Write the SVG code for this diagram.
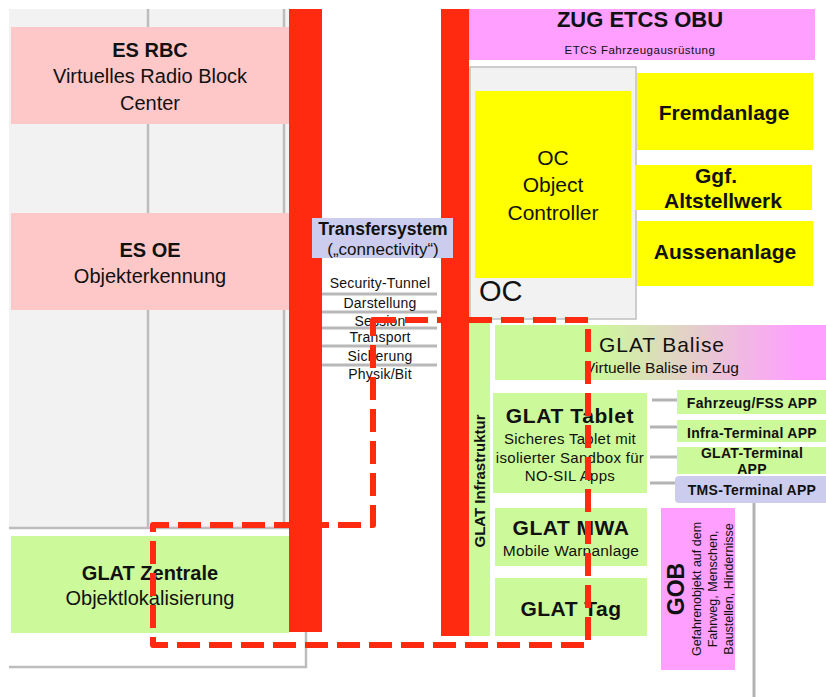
<svg xmlns="http://www.w3.org/2000/svg" width="826" height="697" viewBox="0 0 826 697">
  <defs>
    <linearGradient id="baliseGrad" x1="0" y1="0" x2="1" y2="0">
      <stop offset="0" stop-color="#ccf99a"/>
      <stop offset="0.3" stop-color="#ccf99a"/>
      <stop offset="0.92" stop-color="#ff9fff"/>
      <stop offset="1" stop-color="#ff9fff"/>
    </linearGradient>
  </defs>
  <style>
    text { font-family: "Liberation Sans", Arial, sans-serif; fill: #111; text-anchor: middle; }
    .b { font-weight: bold; }
    .pink { fill: #ffc8c8; }
    .green { fill: #ccf99a; }
    .yellow { fill: #ffff00; }
    .magenta { fill: #ff9fff; }
    .lav { fill: #ccccee; }
    .bar { fill: #ff2a10; }
    .grid { stroke: #bdbdbd; stroke-width: 2.5; fill: none; }
    .link { stroke: #b3b3b3; stroke-width: 3; fill: none; }
    .layer { stroke: #b8b8b8; stroke-width: 3; fill: none; }
    .lyr { font-size: 14px; letter-spacing: 0.2px; }
    .app { font-weight: bold; font-size: 14px; letter-spacing: 0.3px; }
    .zone { stroke: #ff2a10; stroke-width: 6; fill: none; stroke-dasharray: 23 9; stroke-linejoin: round; }
  </style>

  <rect width="826" height="697" fill="#ffffff"/>

  <!-- left gray area with column guides -->
  <g id="left-panel">
    <rect x="9" y="9" width="281" height="519" fill="#f2f2f2"/>
    <path class="grid" d="M148 9 V528"/>
    <path class="grid" d="M284 9 V528" stroke-width="2"/>
    <path class="grid" d="M9 528 H290" stroke="#c8c8c8"/>
    <path class="grid" d="M9 667 H306 V630" stroke="#c4c4c4"/>
  </g>

  <g id="es-rbc">
    <rect class="pink" x="11" y="27" width="278" height="97"/>
    <text class="b" x="150" y="57" font-size="20">ES RBC</text>
    <text x="150" y="83" font-size="20">Virtuelles Radio Block</text>
    <text x="150" y="110" font-size="20">Center</text>
  </g>

  <g id="es-oe">
    <rect class="pink" x="11" y="213" width="278" height="97"/>
    <text class="b" x="150" y="257" font-size="20">ES OE</text>
    <text x="150" y="283" font-size="20">Objekterkennung</text>
  </g>

  <g id="glat-zentrale">
    <rect class="green" x="11" y="536" width="278" height="97"/>
    <text class="b" x="150" y="580" font-size="20">GLAT Zentrale</text>
    <text x="150" y="605" font-size="20">Objektlokalisierung</text>
  </g>

  <!-- transfer buses -->
  <g id="bus-left">
    <rect class="bar" x="289" y="9" width="33" height="623"/>
  </g>
  <g id="bus-right">
    <rect class="bar" x="441" y="9" width="28" height="627"/>
  </g>

  <g id="transfersystem">
    <rect class="lav" x="312" y="218" width="141" height="40"/>
    <text class="b" x="383" y="235" font-size="17.5">Transfersystem</text>
    <text x="383" y="255" font-size="17">(„connectivity“)</text>
    <rect x="323" y="265" width="118" height="120" fill="#ffffff"/>
    <path class="layer" d="M322 294 H437 M322 312 H437 M322 328 H437 M322 346 H437 M322 365 H437"/>
    <text class="lyr" x="380" y="288">Security-Tunnel</text>
    <text class="lyr" x="380" y="308">Darstellung</text>
    <text class="lyr" x="380" y="326">Session</text>
    <text class="lyr" x="380" y="342">Transport</text>
    <text class="lyr" x="380" y="361">Sicherung</text>
    <text class="lyr" x="380" y="379">Physik/Bit</text>
  </g>

  <g id="zug-etcs-obu">
    <rect class="magenta" x="469" y="9" width="346" height="51"/>
    <text class="b" x="640" y="27" font-size="22">ZUG ETCS OBU</text>
    <text x="640" y="54" font-size="11.5" letter-spacing="0.5">ETCS Fahrzeugausrüstung</text>
  </g>

  <g id="oc">
    <rect x="470" y="67" width="166" height="252" fill="#f2f2f2" stroke="#bfbfbf" stroke-width="1.5"/>
    <rect class="yellow" x="475" y="91" width="156" height="187"/>
    <text x="553" y="165" font-size="21">OC</text>
    <text x="553" y="192" font-size="21">Object</text>
    <text x="553" y="220" font-size="21">Controller</text>
    <text x="479" y="301" font-size="29" style="text-anchor:start">OC</text>
  </g>

  <g id="fremdanlage">
    <rect class="yellow" x="637" y="73" width="176" height="77"/>
    <text class="b" x="724" y="120" font-size="21">Fremdanlage</text>
  </g>

  <g id="altstellwerk">
    <rect class="yellow" x="635" y="165" width="177" height="45"/>
    <text class="b" x="716" y="183" font-size="21">Ggf.</text>
    <text class="b" x="723" y="208" font-size="21">Altstellwerk</text>
  </g>

  <g id="aussenanlage">
    <rect class="yellow" x="637" y="221" width="176" height="65"/>
    <text class="b" x="725" y="259" font-size="21">Aussenanlage</text>
  </g>

  <g id="glat-infrastruktur">
    <rect class="green" x="469" y="322" width="21" height="314"/>
    <text class="b" transform="translate(485 481) rotate(-90)" font-size="15">GLAT Infrastruktur</text>
  </g>

  <g id="glat-balise">
    <rect x="495" y="325" width="331" height="55" fill="url(#baliseGrad)"/>
    <text x="662" y="352" font-size="21" letter-spacing="0.9">GLAT Balise</text>
    <text x="662" y="373" font-size="15.5">Virtuelle Balise im Zug</text>
  </g>

  <g id="glat-tablet">
    <rect class="green" x="493" y="393" width="154" height="100"/>
    <text class="b" x="570" y="423" font-size="21" letter-spacing="0.6">GLAT Tablet</text>
    <text x="570" y="444" font-size="15" letter-spacing="0.3">Sicheres Tablet mit</text>
    <text x="570" y="463" font-size="15" letter-spacing="0.3">isolierter Sandbox für</text>
    <text x="570" y="481" font-size="15" letter-spacing="0.3">NO-SIL Apps</text>
  </g>

  <g id="app-fahrzeug">
    <rect class="green" x="677" y="390" width="149" height="24"/>
    <text class="app" x="752" y="408">Fahrzeug/FSS APP</text>
  </g>
  <g id="app-infra">
    <rect class="green" x="677" y="420" width="149" height="22"/>
    <text class="app" x="752" y="438">Infra-Terminal APP</text>
  </g>
  <g id="app-glat">
    <rect class="green" x="677" y="447" width="149" height="27"/>
    <text class="app" x="752" y="458">GLAT-Terminal</text>
    <text class="app" x="752" y="474">APP</text>
  </g>
  <g id="app-tms">
    <rect class="lav" x="675" y="476" width="160" height="27" rx="4"/>
    <text class="app" x="752" y="495">TMS-Terminal APP</text>
  </g>

  <g id="glat-mwa">
    <rect class="green" x="495" y="508" width="152" height="58"/>
    <text class="b" x="571" y="535" font-size="21" letter-spacing="0.5">GLAT MWA</text>
    <text x="571" y="556" font-size="15.5" letter-spacing="0.2">Mobile Warnanlage</text>
  </g>

  <g id="glat-tag">
    <rect class="green" x="495" y="578" width="152" height="58"/>
    <text class="b" x="571" y="616" font-size="21" letter-spacing="0.5">GLAT Tag</text>
  </g>

  <g id="gob">
    <rect class="magenta" x="661" y="508" width="74" height="162"/>
    <text class="b" transform="translate(684 589) rotate(-90)" font-size="23">GOB</text>
    <text transform="translate(701 589) rotate(-90)" font-size="12.5">Gefahrenobjekt auf dem</text>
    <text transform="translate(717 589) rotate(-90)" font-size="12.5">Fahrweg, Menschen,</text>
    <text transform="translate(733 589) rotate(-90)" font-size="12.5">Baustellen, Hindernisse</text>
  </g>

  <!-- connectors -->
  <g id="connectors">
    <path class="link" d="M652 400 H677" stroke-width="4"/>
    <path class="link" d="M650 427 H677"/>
    <path class="link" d="M650 457 H677"/>
    <path class="link" d="M650 483 H675"/>
    <path class="link" d="M754 503 V697" stroke-width="2"/>
  </g>

  <!-- GLAT safety zone -->
  <g id="zone">
    <path class="zone" d="M373 320 H588 V645 H153 V525 H373 Z"/>
  </g>
</svg>
